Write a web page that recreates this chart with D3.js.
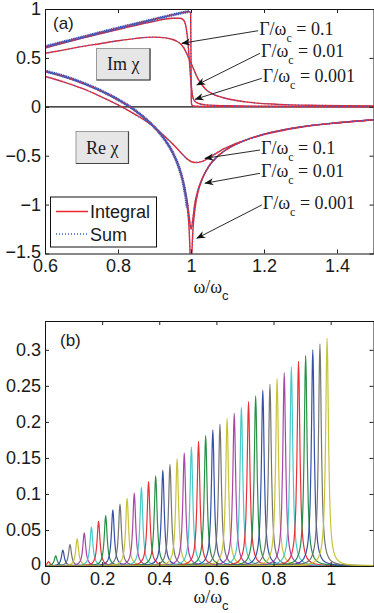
<!DOCTYPE html>
<html>
<head>
<meta charset="utf-8">
<script src="https://cdn.jsdelivr.net/npm/d3@7"></script>
<style>
  body { margin: 0; background: #fff; }
  text { fill: #1a1a1a; }
</style>
</head>
<body>
<svg id="fig" width="374" height="613"></svg>
<script>
// ---------- panel (a) data : chi(omega) for three damping values ----------
var gammaLabels = ['0.1', '0.01', '0.001'];

// Im chi
var imW1 = [0.6, 0.65, 0.7, 0.75, 0.8, 0.85, 0.88, 0.9, 0.93, 0.95, 0.96, 0.97, 0.98, 0.99, 1.0, 1.01, 1.02, 1.04, 1.06, 1.086, 1.15, 1.24, 1.35, 1.5];
var imV1 = [0.547, 0.58, 0.615, 0.645, 0.675, 0.70, 0.71, 0.712, 0.705, 0.688, 0.672, 0.648, 0.605, 0.53, 0.45, 0.36, 0.28, 0.18, 0.13, 0.095, 0.05, 0.025, 0.014, 0.008];
var imW2 = [0.6, 0.7, 0.8, 0.9, 0.95, 0.97, 0.98, 0.985, 0.99, 0.995, 1.0, 1.005, 1.01, 1.02, 1.04, 1.1, 1.2, 1.5];
var imV2 = [0.60, 0.70, 0.79, 0.875, 0.905, 0.905, 0.885, 0.84, 0.72, 0.5, 0.25, 0.1, 0.06, 0.035, 0.02, 0.01, 0.006, 0.003];
var imW3 = [0.6, 0.7, 0.8, 0.9, 0.95, 0.98, 0.995, 0.999, 1.0, 1.001, 1.003, 1.01, 1.05, 1.2, 1.5];
var imV3 = [0.615, 0.71, 0.805, 0.895, 0.94, 0.965, 0.975, 0.96, 0.5, 0.04, 0.015, 0.006, 0.003, 0.002, 0.001];

// Re chi
var reW1 = [0.6, 0.65, 0.7, 0.75, 0.8, 0.85, 0.9, 0.93, 0.95, 0.97, 0.99, 1.01, 1.03, 1.05, 1.08, 1.12, 1.2, 1.3, 1.4, 1.5];
var reV1 = [0.31, 0.255, 0.19, 0.11, 0.02, -0.085, -0.21, -0.31, -0.38, -0.46, -0.535, -0.57, -0.56, -0.52, -0.45, -0.38, -0.285, -0.21, -0.165, -0.132];
var reW2 = [0.6, 0.65, 0.7, 0.75, 0.8, 0.85, 0.9, 0.93, 0.95, 0.97, 0.98, 0.99, 0.995, 1.0, 1.005, 1.01, 1.02, 1.03, 1.05, 1.07, 1.1, 1.15, 1.2, 1.3, 1.4, 1.5];
var reV2 = [0.36, 0.31, 0.245, 0.165, 0.07, -0.05, -0.21, -0.345, -0.47, -0.65, -0.79, -0.98, -1.12, -1.25, -1.15, -1.0, -0.84, -0.74, -0.6, -0.515, -0.43, -0.34, -0.28, -0.205, -0.163, -0.132];
var reW3 = [0.6, 0.65, 0.7, 0.75, 0.8, 0.85, 0.9, 0.93, 0.95, 0.97, 0.98, 0.99, 0.995, 0.998, 1.0, 1.002, 1.005, 1.01, 1.02, 1.03, 1.05, 1.07, 1.1, 1.15, 1.2, 1.3, 1.4, 1.5];
var reV3 = [0.365, 0.315, 0.25, 0.17, 0.075, -0.045, -0.21, -0.345, -0.47, -0.655, -0.8, -1.03, -1.26, -1.56, -1.9, -1.56, -1.28, -1.07, -0.86, -0.745, -0.605, -0.517, -0.43, -0.34, -0.28, -0.205, -0.163, -0.132];

// arrow annotations (tail, tip) in data units
var annoLabels = ['0.1', '0.01', '0.001', '0.1', '0.01', '0.001'];
var annoTail = [[1.184, 0.778], [1.189, 0.547], [1.194, 0.291], [1.189, -0.442], [1.189, -0.68], [1.194, -1.004]];
var annoTip = [[0.9745, 0.649], [1.0156, 0.223], [1.011, 0.077], [1.038, -0.527], [1.038, -0.782], [1.0156, -1.345]];

var xTicksA = [0.6, 0.8, 1, 1.2, 1.4];
var yTicksA = [-1.5, -1, -0.5, 0, 0.5, 1];

// ---------- panel (b) data : individual oscillator peaks ----------
var peakCenters = [0.0125, 0.0375, 0.0625, 0.0875, 0.1125, 0.1375, 0.1625, 0.1875, 0.2125, 0.2375,
  0.2625, 0.2875, 0.3125, 0.3375, 0.3625, 0.3875, 0.4125, 0.4375, 0.4625, 0.4875,
  0.5125, 0.5375, 0.5625, 0.5875, 0.6125, 0.6375, 0.6625, 0.6875, 0.7125, 0.7375,
  0.7625, 0.7875, 0.8125, 0.8375, 0.8625, 0.8875, 0.9125, 0.9375, 0.9625, 0.9875];
var peakHeights = [0.006, 0.014, 0.022, 0.030, 0.038, 0.046, 0.054, 0.062, 0.070, 0.078,
  0.086, 0.094, 0.101, 0.109, 0.117, 0.125, 0.133, 0.141, 0.149, 0.157,
  0.165, 0.173, 0.181, 0.189, 0.197, 0.205, 0.212, 0.220, 0.228, 0.236,
  0.244, 0.252, 0.260, 0.268, 0.276, 0.284, 0.292, 0.300, 0.308, 0.316];
// shared line shape of one peak (offset from centre, fraction of peak height)
var profileOffsets = [-1.2, -0.3, -0.12, -0.07, -0.045, -0.03, -0.02, -0.016, -0.012, -0.009, -0.006, -0.004, -0.002, 0,
  0.002, 0.004, 0.006, 0.009, 0.012, 0.016, 0.02, 0.03, 0.045, 0.07, 0.12, 0.3, 1.2];
var profileShape = [0, 0.0004, 0.0025, 0.0073, 0.0175, 0.0385, 0.083, 0.123, 0.2, 0.308, 0.5, 0.692, 0.9, 1,
  0.9, 0.692, 0.5, 0.308, 0.2, 0.123, 0.083, 0.0385, 0.0175, 0.0073, 0.0025, 0.0004, 0];

var xTicksB = [0, 0.2, 0.4, 0.6, 0.8, 1];
var yTicksB = [0, 0.05, 0.1, 0.15, 0.2, 0.25, 0.3];

var peakColors = ['#e8262b', '#1a8a3c', '#2b48a3', '#6d6d6d', '#c6c02e', '#a23ea2', '#3cc6c6'];

// ---------- drawing ----------
var svg = d3.select('#fig');
var sans = 'Liberation Sans, Arial, sans-serif';
var serif = 'Liberation Serif, Times New Roman, serif';
var fmt = d3.format('~');

var A = {left: 45, right: 373.5, top: 9, bottom: 253.5};
var B = {left: 45, right: 373.5, top: 321, bottom: 566};

var xA = d3.scaleLinear().domain([0.6, 1.5]).range([A.left, A.right]);
var yA = d3.scaleLinear().domain([-1.5, 1]).range([A.bottom, A.top]);
var xB = d3.scaleLinear().domain([0, 1.15]).range([B.left, B.right]);
var yB = d3.scaleLinear().domain([0, 0.34]).range([B.bottom, B.top]);

var defs = svg.append('defs');
defs.append('clipPath').attr('id', 'clipA').append('rect')
  .attr('x', A.left).attr('y', A.top).attr('width', A.right - A.left).attr('height', A.bottom - A.top);
defs.append('clipPath').attr('id', 'clipB').append('rect')
  .attr('x', B.left).attr('y', B.top).attr('width', B.right - B.left).attr('height', B.bottom - B.top);
defs.append('marker').attr('id', 'ah')
  .attr('viewBox', '0 0 10 10').attr('refX', 9.5).attr('refY', 5)
  .attr('markerUnits', 'userSpaceOnUse').attr('markerWidth', 9).attr('markerHeight', 9)
  .attr('orient', 'auto')
  .append('path').attr('d', 'M0,1 L10,5 L0,9 L3,5 z').attr('fill', '#111');

function drawAxes(P, x, y, xt, yt) {
  var gx = svg.append('g').attr('transform', 'translate(0,' + P.bottom + ')')
    .call(d3.axisBottom(x).tickValues(xt).tickFormat(fmt).tickSize(-4).tickSizeOuter(0).tickPadding(6));
  var gy = svg.append('g').attr('transform', 'translate(' + P.left + ',0)')
    .call(d3.axisLeft(y).tickValues(yt).tickFormat(fmt).tickSize(-4).tickSizeOuter(0).tickPadding(4));
  svg.append('g').attr('transform', 'translate(0,' + P.top + ')')
    .call(d3.axisTop(x).tickValues(xt).tickFormat('').tickSize(-4).tickSizeOuter(0));
  svg.append('g').attr('transform', 'translate(' + P.right + ',0)')
    .call(d3.axisRight(y).tickValues(yt).tickFormat('').tickSize(-4).tickSizeOuter(0));
  svg.selectAll('.tick line').attr('stroke', '#222');
  svg.selectAll('.domain').attr('stroke', '#111');
  [gx, gy].forEach(function(g) {
    g.selectAll('text').style('font-family', sans).style('font-size', '18px').attr('fill', '#1a1a1a');
  });
  // lowest y label sits a little higher, as in the source figure
  gy.selectAll('.tick').filter(d => d === yt[0]).select('text').attr('dy', '0.2em');
}

// ---- panel (a) ----
var lineA = d3.line().x(d => xA(d[0])).y(d => yA(d[1])).curve(d3.curveMonotoneX);
function zipPts(w, v) { return w.map((d, i) => [d, v[i]]); }

var curvesA = [zipPts(imW1, imV1), zipPts(imW2, imV2), zipPts(imW3, imV3),
               zipPts(reW1, reV1), zipPts(reW2, reV2), zipPts(reW3, reV3)];

var plotA = svg.append('g').attr('clip-path', 'url(#clipA)');
plotA.append('line')
  .attr('x1', A.left).attr('x2', A.right).attr('y1', yA(0)).attr('y2', yA(0))
  .attr('stroke', '#111').attr('stroke-width', 1.3);

curvesA.forEach(function(c) {
  plotA.append('path').attr('d', lineA(c))
    .attr('fill', 'none').attr('stroke', '#e8262b').attr('stroke-width', 1.4);
});
// "Sum" overlays: thick band on the sharpest curves, sparse dots elsewhere
plotA.append('path').attr('d', lineA(curvesA[2].filter(d => d[0] <= 0.997)))
  .attr('fill', 'none').attr('stroke', '#3a56b5').attr('stroke-width', 3).attr('stroke-dasharray', '1.2,0.6');
plotA.append('path').attr('d', lineA(curvesA[5].filter(d => d[0] <= 0.99)))
  .attr('fill', 'none').attr('stroke', '#3a56b5').attr('stroke-width', 3).attr('stroke-dasharray', '1.2,0.6');
curvesA.forEach(function(c) {
  plotA.append('path').attr('d', lineA(c))
    .attr('fill', 'none').attr('stroke', '#4060d0').attr('stroke-width', 1.4).attr('stroke-dasharray', '0.8,2.6');
});

// boxes "Im chi" / "Re chi"
function labelBox(x0, y0, w, h, txt) {
  var g = svg.append('g');
  g.append('rect').attr('x', x0).attr('y', y0).attr('width', w).attr('height', h)
    .attr('fill', '#e6e6e6').attr('stroke', '#9a9a9a').attr('stroke-width', 1);
  g.append('path').attr('d', 'M' + (x0 + w) + ',' + y0 + ' V' + (y0 + h) + ' H' + x0)
    .attr('fill', 'none').attr('stroke', '#444').attr('stroke-width', 1.2);
  g.append('text').attr('x', x0 + w / 2).attr('y', y0 + h / 2 + 6).attr('text-anchor', 'middle')
    .style('font-family', serif).style('font-size', '18px').text(txt);
}
labelBox(96.5, 48.5, 53.5, 31.5, 'Im χ');
labelBox(76, 131.5, 52.5, 32, 'Re χ');

// arrows + labels
annoLabels.forEach(function(lab, i) {
  var t = annoTail[i], p = annoTip[i];
  svg.append('line')
    .attr('x1', xA(t[0])).attr('y1', yA(t[1])).attr('x2', xA(p[0])).attr('y2', yA(p[1]))
    .attr('stroke', '#111').attr('stroke-width', 0.9).attr('marker-end', 'url(#ah)');
  var tx = svg.append('text').attr('x', xA(t[0]) + 1).attr('y', yA(t[1]) + 4)
    .style('font-family', serif).style('font-size', '18px');
  tx.append('tspan').text('Γ/ω');
  tx.append('tspan').attr('dy', 7).style('font-size', '12px').text('c');
  tx.append('tspan').attr('dy', -7).text(' = ' + lab);
});

// legend
var leg = svg.append('g');
leg.append('rect').attr('x', 50.5).attr('y', 197).attr('width', 106).attr('height', 50)
  .attr('fill', '#fff').attr('stroke', '#111').attr('stroke-width', 1);
leg.append('line').attr('x1', 56).attr('x2', 88).attr('y1', 211.5).attr('y2', 211.5)
  .attr('stroke', '#e8262b').attr('stroke-width', 1.5);
leg.append('line').attr('x1', 56).attr('x2', 88).attr('y1', 234).attr('y2', 234)
  .attr('stroke', '#4060d0').attr('stroke-width', 1.5).attr('stroke-dasharray', '1,2');
leg.append('text').attr('x', 90).attr('y', 218).style('font-family', sans).style('font-size', '18px').text('Integral');
leg.append('text').attr('x', 90).attr('y', 240.5).style('font-family', sans).style('font-size', '18px').text('Sum');

drawAxes(A, xA, yA, xTicksA, yTicksA);

svg.append('text').attr('x', 53).attr('y', 29).style('font-family', sans).style('font-size', '17px').text('(a)');

function xLabel(cx, by) {
  var t = svg.append('text').attr('x', cx).attr('y', by).attr('text-anchor', 'middle')
    .style('font-family', serif).style('font-size', '18px');
  t.append('tspan').text('ω/ω');
  t.append('tspan').attr('dy', 7).style('font-family', sans).style('font-size', '13px').text('c');
}
xLabel(211, 293);

// ---- panel (b) ----
var lineB = d3.line().x(d => xB(d[0])).y(d => yB(d[1])).curve(d3.curveMonotoneX);
var plotB = svg.append('g').attr('clip-path', 'url(#clipB)');
peakCenters.forEach(function(c, i) {
  var pts = profileOffsets.map((o, k) => [c + o, peakHeights[i] * profileShape[k]]);
  plotB.append('path').attr('d', lineB(pts))
    .attr('fill', 'none').attr('stroke', peakColors[i % peakColors.length])
    .attr('stroke-width', 1.2).attr('stroke-opacity', 0.95);
});

drawAxes(B, xB, yB, xTicksB, yTicksB);
svg.append('text').attr('x', 60).attr('y', 346).style('font-family', sans).style('font-size', '17px').text('(b)');
xLabel(211, 603);
</script>
</body>
</html>
